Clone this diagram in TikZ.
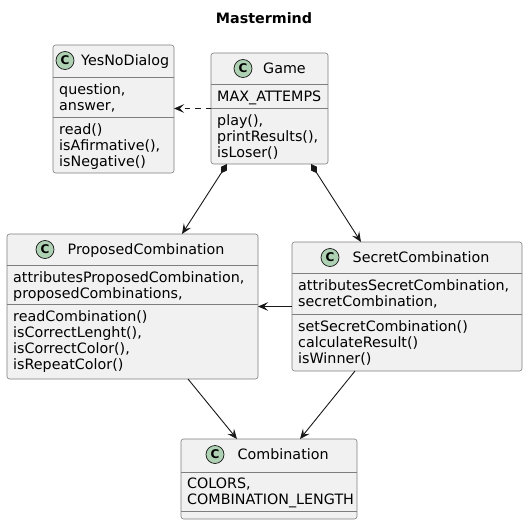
\documentclass[tikz,border=0pt]{standalone}
\usepackage{fontspec}
\setmainfont{DejaVu Sans}
\usetikzlibrary{arrows.meta}
\definecolor{boxfill}{HTML}{F1F1F1}
\definecolor{boxline}{HTML}{7E7E7E}
\definecolor{arrline}{HTML}{181818}
\definecolor{circfill}{HTML}{ADD1B2}
\tikzset{
  umlbox/.style={draw=boxline, fill=boxfill, line width=0.6pt, rounded corners=2.5pt,
    anchor=north west, inner sep=0pt, outer sep=0pt},
  sepline/.style={draw=boxline, line width=0.6pt},
  txt/.style={font=\fontsize{14.3}{16.3}\selectfont, inner sep=0pt, anchor=base west, text=black},
  hdr/.style={font=\fontsize{14.3}{16.3}\selectfont, inner sep=0pt, anchor=base west, text=black},
  badge/.style={circle, draw=arrline, fill=circfill, line width=0.7pt, minimum size=18pt,
    inner sep=0pt, font=\fontsize{12}{12}\selectfont\bfseries},
  conn/.style={draw=arrline, line width=0.9pt},
  comp/.style={conn, {Diamond[length=11pt,width=7pt]}->},
}
\newcommand{\umltext}[4]{%
  \foreach \lineitem [count=\i] in {#4}{%
    \node[txt] (#1\i) at (#2,{#3+16.3*(\i-1)}) {\lineitem};}}
\begin{document}
\begin{tikzpicture}[x=1pt,y=-1pt,>={Stealth[length=10pt,width=8.5pt,inset=4pt]}]
\useasboundingbox (0,0) rectangle (528,525);
\node[font=\fontsize{14.3}{16}\selectfont\bfseries, anchor=base, inner sep=0pt] (title) at (264,23) {Mastermind};

% YesNoDialog
\node[umlbox, minimum width=121pt, minimum height=128pt] (yesno) at (53,45) {};
\node[badge] (yesnoC) at (65,60.5) {C};
\node[hdr] (yesnoT) at (81,65) {YesNoDialog};
\draw[sepline] (yesno.west |- 0,77) -- (yesno.east |- 0,77);
\draw[sepline] (yesno.west |- 0,117) -- (yesno.east |- 0,117);
\umltext{yesnoA}{59}{94}{{question,},{answer,}}
\umltext{yesnoM}{59}{134}{read(),{isAfirmative(),},isNegative()}

% Game
\node[umlbox, minimum width=117pt, minimum height=111pt] (game) at (211,53) {};
\node[badge] (gameC) at (243,68.5) {C};
\node[hdr] (gameT) at (263,73) {Game};
\draw[sepline] (game.west |- 0,84) -- (game.east |- 0,84);
\draw[sepline] (game.west |- 0,108) -- (game.east |- 0,108);
\umltext{gameA}{217}{101}{MAX\_ATTEMPS}
\umltext{gameM}{217}{125}{{play(),},{printResults(),},isLoser()}

% ProposedCombination
\node[umlbox, minimum width=251pt, minimum height=145pt] (prop) at (7,234) {};
\node[badge] (propC) at (45,249.5) {C};
\node[hdr] (propT) at (67.5,254) {ProposedCombination};
\draw[sepline] (prop.west |- 0,265) -- (prop.east |- 0,265);
\draw[sepline] (prop.west |- 0,304) -- (prop.east |- 0,304);
\umltext{propA}{13}{282}{{attributesProposedCombination,},{proposedCombinations,}}
\umltext{propM}{13}{321}{readCombination(),{isCorrectLenght(),},{isCorrectColor(),},isRepeatColor()}

% SecretCombination
\node[umlbox, minimum width=230pt, minimum height=129pt] (secret) at (292,242) {};
\node[badge] (secretC) at (330,257.5) {C};
\node[hdr] (secretT) at (352.5,262) {SecretCombination};
\draw[sepline] (secret.west |- 0,273) -- (secret.east |- 0,273);
\draw[sepline] (secret.west |- 0,314) -- (secret.east |- 0,314);
\umltext{secretA}{298}{290}{{attributesSecretCombination,},{secretCombination,}}
\umltext{secretM}{298}{331}{setSecretCombination(),calculateResult(),isWinner()}

% Combination
\node[umlbox, minimum width=176pt, minimum height=80pt] (comb) at (181,439) {};
\node[badge] (combC) at (215,454.5) {C};
\node[hdr] (combT) at (237.5,459) {Combination};
\draw[sepline] (comb.west |- 0,472) -- (comb.east |- 0,472);
\draw[sepline] (comb.west |- 0,511) -- (comb.east |- 0,511);
\umltext{combA}{187}{488}{{COLORS,},COMBINATION\_LENGTH}

% connectors
\draw[conn, dash pattern=on 5.5pt off 5pt, ->] (game.west) -- (game.west -| yesno.east);
\draw[comp] ([xshift=16pt]game.south west) -- ([xshift=175pt]prop.north west);
\draw[comp] ([xshift=-17pt]game.south east) -- ([xshift=69pt]secret.north west);
\draw[conn, ->] (secret.west) -- (secret.west -| prop.east);
\draw[conn, ->] ([xshift=181pt]prop.south west) -- ([xshift=56pt]comb.north west);
\draw[conn, ->] ([xshift=63pt]secret.south west) -- ([xshift=119pt]comb.north west);
\end{tikzpicture}
\end{document}
